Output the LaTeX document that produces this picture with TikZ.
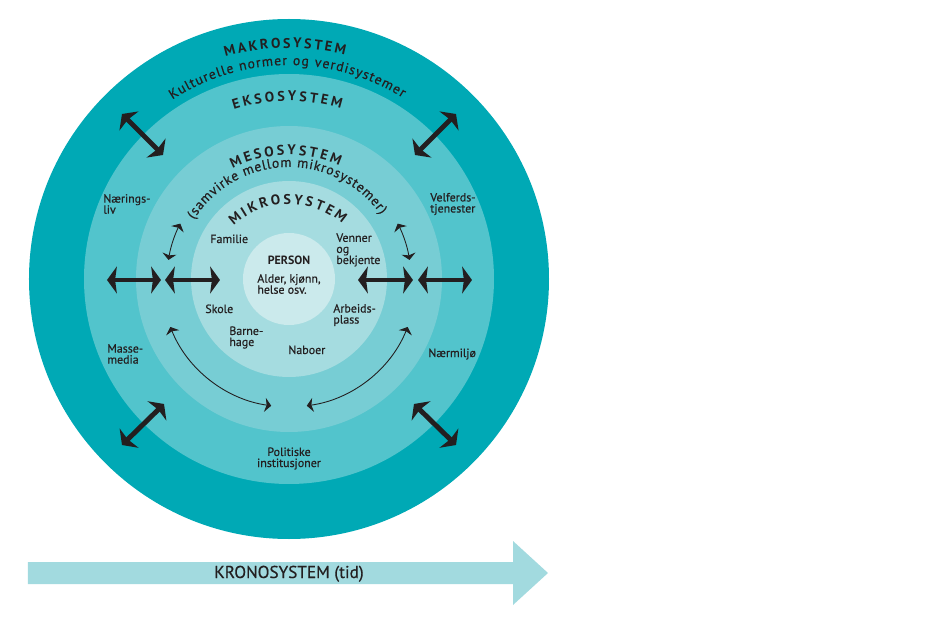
\documentclass[tikz,border=0pt]{standalone}
\usepackage{fontspec}
\setmainfont{PT Sans}
\newfontfamily\halvfet{PT Sans}[FakeBold=0.5]
\usetikzlibrary{arrows.meta,decorations.text}

\definecolor{ink}{HTML}{231F20}
\definecolor{makro}{HTML}{00A9B5}
\definecolor{ekso}{HTML}{52C4CC}
\definecolor{meso}{HTML}{77CDD4}
\definecolor{mikro}{HTML}{A5DCE0}
\definecolor{personfarge}{HTML}{CBEAEC}
\definecolor{krono}{HTML}{A2DADF}

\newcommand{\tittel}{\fontsize{8}{9}\selectfont\bfseries}
\newcommand{\brodtekst}{\fontsize{7.8}{9}\selectfont\halvfet}

\tikzset{
  lbl/.style={text=ink, inner sep=0pt, align=left, font=\fontsize{6.8}{6.3}\selectfont\halvfet},
  bue/.style={decorate, decoration={text along path, text align={fit to path}, text color=ink}},
  tykkpil/.style={ink, line width=2.8pt, {Stealth[length=5.6pt,width=15.3pt,inset=1pt]}-{Stealth[length=5.6pt,width=15.3pt,inset=1pt]}},
  tynnpil/.style={ink, line width=0.5pt, {Stealth[length=3.6pt,width=8pt,inset=1pt]}-{Stealth[length=3.6pt,width=8pt,inset=1pt]}}
}

\begin{document}
\begin{tikzpicture}[x=0.02cm, y=0.02cm]
                \useasboundingbox (-289,-353) rectangle (651,279);

                % Drawing circle makro
                \fill [makro] (0,0) circle (260);%
                % Drawing circle ekso
                \fill [ekso] (0,0) circle (205);%
                % Drawing circle meso
                \fill [meso] (0,0) circle (153);%
                % Drawing circle mikro
                \fill [mikro] (0,0) circle (98);%
                % Drawing circle person
                \fill [personfarge] (0,0) circle (46);%

                % Writing curved titles
                \path [bue, decoration={text={|\tittel|MAKROSYSTEM}}] (106:231) arc (106:76:231);%
                \path [bue, decoration={text={|\brodtekst|Kulturelle normer og verdisystemer}}] (123:214) arc (123:58:214);%
                \path [bue, decoration={text={|\tittel|EKSOSYSTEM}}] (108:178) arc (108:73:178);%
                \path [bue, decoration={text={|\tittel|MESOSYSTEM}}] (117:124) arc (117:66:124);%
                \path [bue, decoration={text={|\brodtekst|(samvirke mellom mikrosystemer)}}] (148:112) arc (148:35:112);%
                \path [bue, decoration={text={|\tittel|MIKROSYSTEM}}] ([shift={(0,-6)}]133:81) arc (133:49:81);%

                % Drawing thick arrows
                \draw [tykkpil] (-167,165) -- (-126,124);%
                \draw [tykkpil] (167,165) -- (126,124);%
                \draw [tykkpil] (-167,-166) -- (-125,-125);%
                \draw [tykkpil] (167,-166) -- (125,-125);%
                \draw [tykkpil] (-182,-1) -- (-128,-1);%
                \draw [tykkpil] (-124,-1) -- (-69,-1);%
                \draw [tykkpil] (69,-1) -- (124,-1);%
                \draw [tykkpil] (129,-1) -- (183,-1);%

                % Drawing thin arrows
                \draw [tynnpil] (171:122) arc (171:153:122);%
                \draw [tynnpil] (9:122) arc (9:27:122);%
                \draw [tynnpil] (202:128) arc (202:262:128);%
                \draw [tynnpil] (338:128) arc (338:278:128);%

                % Marking labels
                \draw (-186,75) node (naering) [lbl, anchor=west] {Nærings-\\liv};%
                \draw (141,75) node (velferd) [lbl, anchor=west] {Velferds-\\tjenester};%
                \draw (-79,36) node (familie) [lbl, anchor=base west] {Familie};%
                \draw (47,29) node (venner) [lbl, anchor=west] {Venner\\og\\bekjente};%
                \draw (0,14) node (person) [lbl, anchor=base, font=\fontsize{6.8}{6.3}\selectfont\bfseries] {PERSON};%
                \draw (-32,-5) node (alder) [lbl, anchor=west] {Alder, kjønn,\\helse osv.};%
                \draw (-84,-34) node (skole) [lbl, anchor=base west] {Skole};%
                \draw (44,-36) node (arbeid) [lbl, anchor=west] {Arbeids-\\plass};%
                \draw (-60,-58.5) node (barnehage) [lbl, anchor=west] {Barne-\\hage};%
                \draw (-1,-75) node (naboer) [lbl, anchor=base west] {Naboer};%
                \draw (-182,-75) node (masse) [lbl, anchor=west] {Masse-\\media};%
                \draw (139,-78) node (naermiljo) [lbl, anchor=base west] {Nærmiljø};%
                \draw (0,-179.5) node (politisk) [lbl, align=center] {Politiske\\institusjoner};%

                % Drawing arrow kronosystem
                \fill [krono] (-261,-283) -- (224,-283) -- (224,-262) -- (259,-294) -- (224,-326) -- (224,-305) -- (-261,-305) -- cycle;%
                \draw (0,-299) node (krono) [lbl, anchor=base, font=\fontsize{9.8}{11}\selectfont\halvfet] {KRONOSYSTEM (tid)};%
\end{tikzpicture}
\end{document}
